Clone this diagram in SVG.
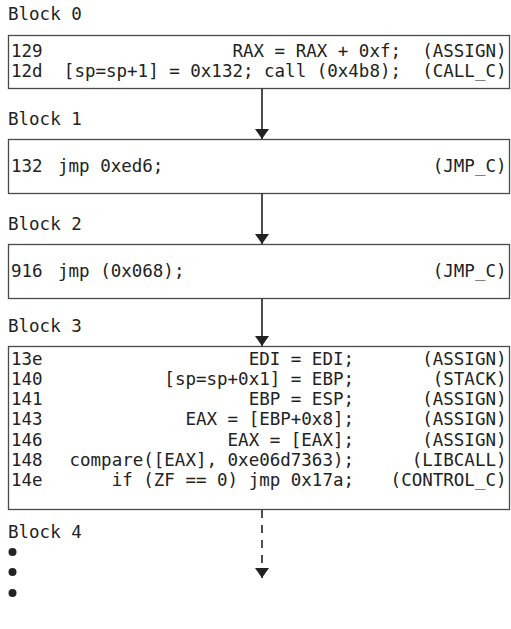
<svg xmlns="http://www.w3.org/2000/svg" width="511" height="629" viewBox="0 0 511 629">
<defs>
<style>
text{font-family:"DejaVu Sans Mono","Liberation Mono",monospace;font-size:17.5px;fill:#222}
.e{text-anchor:end}
.box{fill:#fff;stroke:#4a4a4a;stroke-width:1.3}
.edge{stroke:#222;stroke-width:1.6;fill:none}
.dash{stroke-dasharray:8 7}
</style>
<marker id="ah" viewBox="0 0 10 14" refX="10" refY="7" markerWidth="10" markerHeight="14" markerUnits="userSpaceOnUse" orient="auto">
<path d="M0,0 L10,7 L0,14 Z" fill="#222"/>
</marker>
</defs>
<rect width="511" height="629" fill="#fff"/>
<g id="block0">
<text x="8" y="20">Block 0</text>
<rect class="box" x="8.5" y="35.5" width="501" height="53"/>
<text x="11" y="57">129</text>
<text class="e" x="401" y="57">RAX = RAX + 0xf;</text>
<text class="e" x="506.5" y="57">(ASSIGN)</text>
<text x="11" y="77">12d</text>
<text class="e" x="401" y="77">[sp=sp+1] = 0x132; call (0x4b8);</text>
<text class="e" x="506.5" y="77">(CALL_C)</text>
</g>
<g id="block1">
<text x="8" y="125">Block 1</text>
<rect class="box" x="8.5" y="139.5" width="501" height="54"/>
<text x="11" y="172">132</text>
<text x="58" y="172">jmp 0xed6;</text>
<text class="e" x="506.5" y="172">(JMP_C)</text>
</g>
<g id="block2">
<text x="8" y="230">Block 2</text>
<rect class="box" x="8.5" y="244.5" width="501" height="54"/>
<text x="11" y="277">916</text>
<text x="58" y="277">jmp (0x068);</text>
<text class="e" x="506.5" y="277">(JMP_C)</text>
</g>
<g id="block3">
<text x="8" y="332">Block 3</text>
<rect class="box" x="8.5" y="346.5" width="501" height="163"/>
<text x="11" y="365">13e</text><text class="e" x="354" y="365">EDI = EDI;</text><text class="e" x="506.5" y="365">(ASSIGN)</text>
<text x="11" y="385">140</text><text class="e" x="354" y="385">[sp=sp+0x1] = EBP;</text><text class="e" x="506.5" y="385">(STACK)</text>
<text x="11" y="405">141</text><text class="e" x="354" y="405">EBP = ESP;</text><text class="e" x="506.5" y="405">(ASSIGN)</text>
<text x="11" y="425">143</text><text class="e" x="354" y="425">EAX = [EBP+0x8];</text><text class="e" x="506.5" y="425">(ASSIGN)</text>
<text x="11" y="446">146</text><text class="e" x="354" y="446">EAX = [EAX];</text><text class="e" x="506.5" y="446">(ASSIGN)</text>
<text x="11" y="466">148</text><text class="e" x="354" y="466">compare([EAX], 0xe06d7363);</text><text class="e" x="506.5" y="466">(LIBCALL)</text>
<text x="11" y="486">14e</text><text class="e" x="354" y="486">if (ZF == 0) jmp 0x17a;</text><text class="e" x="506.5" y="486">(CONTROL_C)</text>
</g>
<g id="block4">
<text x="8" y="538">Block 4</text>
<circle cx="12.5" cy="552" r="4" fill="#222"/>
<circle cx="12.5" cy="572" r="4" fill="#222"/>
<circle cx="12.5" cy="593" r="4" fill="#222"/>
</g>
<g id="connectors">
<line class="edge" x1="262" y1="88.5" x2="262" y2="139" marker-end="url(#ah)"/>
<line class="edge" x1="262" y1="193.5" x2="262" y2="244" marker-end="url(#ah)"/>
<line class="edge" x1="262" y1="298.5" x2="262" y2="346" marker-end="url(#ah)"/>
<line class="edge dash" x1="262" y1="510" x2="262" y2="578" marker-end="url(#ah)"/>
</g>
</svg>
